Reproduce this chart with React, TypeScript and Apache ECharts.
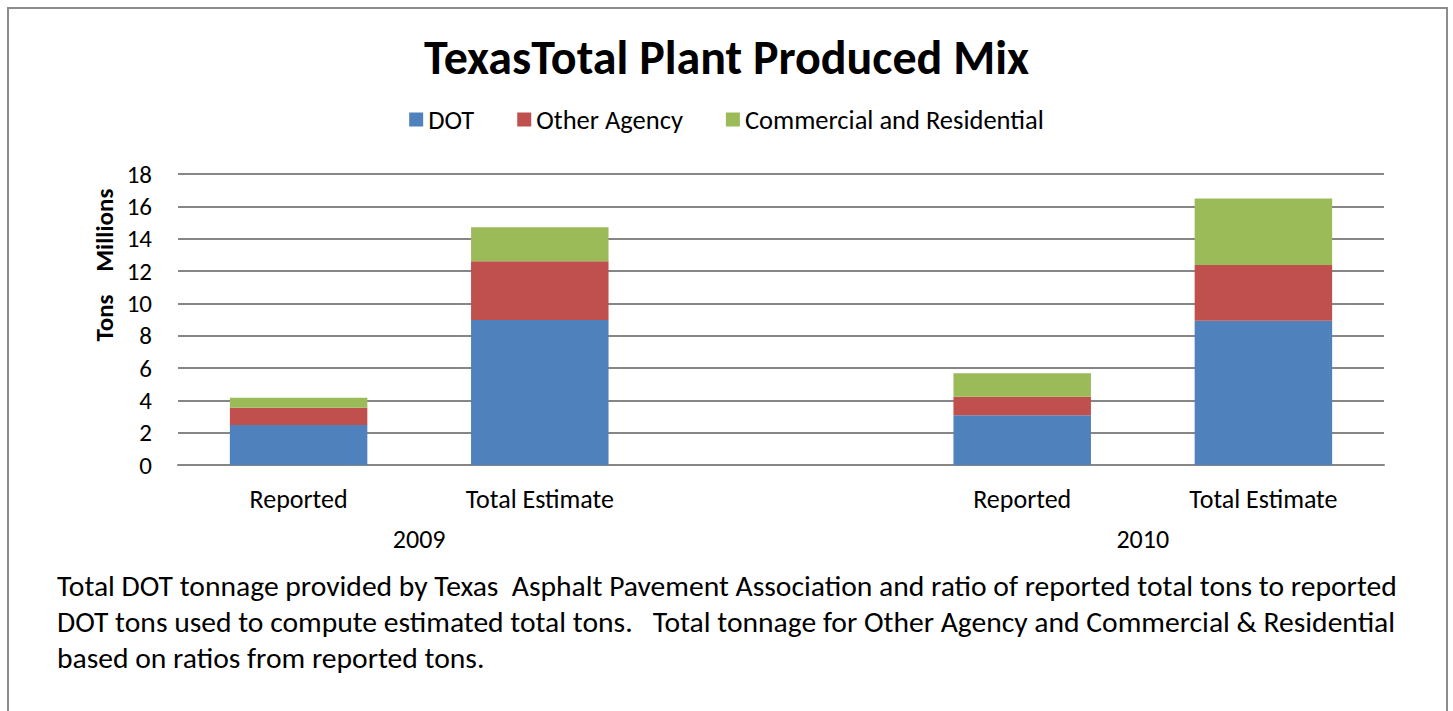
import React, { useEffect, useRef } from "react";
import * as echarts from "echarts";

const categories = ["Reported", "Total Estimate", "", "Reported", "Total Estimate"];
const yearLabels = ["", "", "2009", "", "", "", "", "", "2010", "", ""];
const dotValues = [2.47, 8.97, null, 3.07, 8.92];
const otherAgencyValues = [1.07, 3.63, null, 1.15, 3.45];
const commercialValues = [0.62, 2.1, null, 1.45, 4.12];
const seriesNames = ["DOT", "Other Agency", "Commercial and Residential"];
const colors = ["#4F81BD", "#C0504D", "#9BBB59"];
const yAxisTitle = "Tons    Millions";
const footnoteLines = [
  "Total DOT tonnage provided by Texas  Asphalt Pavement Association and ratio of reported total tons to reported",
  "DOT tons used to compute estimated total tons.   Total tonnage for Other Agency and Commercial & Residential",
  "based on ratios from reported tons.",
];

const FONT = "Carlito, Lato, sans-serif";

export default function App() {
  const ref = useRef<HTMLDivElement>(null);
  useEffect(() => {
    if (!ref.current) return;
    const chart = echarts.init(ref.current, null, { renderer: "svg" });
    const values = [dotValues, otherAgencyValues, commercialValues];
    chart.setOption({
      animation: false,
      backgroundColor: "#ffffff",
      textStyle: { fontFamily: FONT },
      title: {
        text: "TexasTotal Plant Produced Mix",
        left: "center",
        top: 28,
        textStyle: { fontFamily: FONT, fontSize: 48, fontWeight: "bold", color: "#000" },
      },
      legend: {
        top: 101,
        left: "center",
        itemWidth: 14,
        itemHeight: 14,
        itemGap: 43,
        icon: "rect",
        textStyle: { fontFamily: FONT, fontSize: 26.5, color: "#000" },
        data: seriesNames,
      },
      grid: { left: 178, right: 69, top: 174, bottom: 246 },
      xAxis: [
        {
          type: "category",
          data: categories,
          axisLine: { lineStyle: { color: "#868686", width: 2 } },
          axisTick: { show: false },
          axisLabel: { fontFamily: FONT, fontSize: 26, color: "#000", margin: 21, interval: 0 },
        },
        {
          type: "category",
          position: "bottom",
          offset: 61,
          boundaryGap: false,
          data: yearLabels,
          axisLine: { show: false },
          axisTick: { show: false },
          axisLabel: { fontFamily: FONT, fontSize: 26, color: "#000", margin: 0, interval: 0 },
        },
      ],
      yAxis: {
        type: "value",
        min: 0,
        max: 18,
        interval: 2,
        axisLine: { show: false },
        axisTick: { show: false },
        axisLabel: { fontFamily: FONT, fontSize: 25, color: "#000", margin: 26 },
        splitLine: { lineStyle: { color: "#868686", width: 2 } },
      },
      series: seriesNames.map((name, i) => ({
        name,
        type: "bar",
        stack: "total",
        barWidth: "57%",
        itemStyle: { color: colors[i] },
        data: values[i],
      })),
      graphic: [
        {
          type: "rect",
          shape: { x: 8, y: 8, width: 1439, height: 720 },
          style: { fill: "none", stroke: "#8c8c8c", lineWidth: 2 },
          silent: true,
        },
        {
          type: "text",
          x: 104,
          y: 265,
          rotation: Math.PI / 2,
          style: {
            text: yAxisTitle,
            fontFamily: FONT,
            fontSize: 25,
            fontWeight: "bold",
            fill: "#000",
            align: "center",
            verticalAlign: "middle",
          },
        },
        ...footnoteLines.map((line, i) => ({
          type: "text",
          left: 57,
          top: 571 + i * 36,
          style: { text: line, fontFamily: FONT, fontSize: 29.6, fill: "#000" },
        })),
      ],
    });
    return () => chart.dispose();
  }, []);
  return (
    <div
      ref={ref}
      style={{ position: "absolute", left: 0, top: 0, width: 1453, height: 711 }}
    />
  );
}
